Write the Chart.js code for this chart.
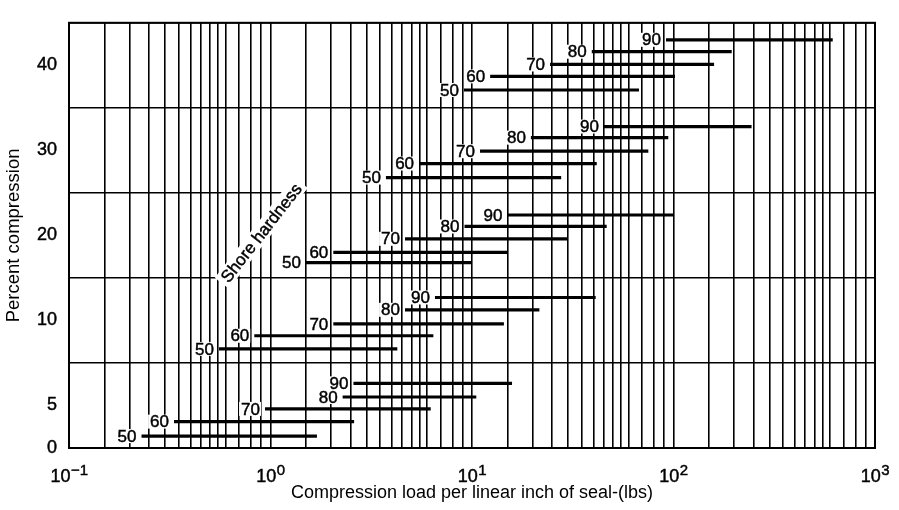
<!DOCTYPE html>
<html><head><meta charset="utf-8">
<script src="https://cdn.jsdelivr.net/npm/chart.js@4"></script>
<style>html,body{margin:0;padding:0;background:#fff;}#wrap{width:899px;height:510px;position:relative;}</style>
</head><body><div id="wrap"><canvas id="c"></canvas></div>
<script>
// ---- data ----
const hardness = [50, 60, 70, 80, 90];
const band1Y = [1.4, 3.1, 4.6, 6.0, 7.6];
const band1Start = [0.229, 0.332, 0.939, 2.28, 2.58];
const band1End = [1.70, 2.60, 6.24, 10.5, 15.8];
const band2Y = [11.65, 13.2, 14.6, 16.25, 17.7];
const band2Start = [0.555, 0.831, 2.05, 4.65, 6.55];
const band2End = [4.26, 6.43, 14.4, 21.6, 41.1];
const band3Y = [21.8, 23.0, 24.6, 26.05, 27.4];
const band3Start = [1.50, 2.05, 4.65, 9.18, 15.0];
const band3End = [9.97, 15.0, 29.7, 46.6, 100];
const band4Y = [31.8, 33.45, 34.9, 36.5, 37.8];
const band4Start = [3.74, 5.46, 10.96, 19.6, 45.2];
const band4End = [27.7, 41.6, 75.0, 94.2, 244];
const band5Y = [42.1, 43.7, 45.1, 46.6, 48.0];
const band5Start = [9.12, 12.3, 24.4, 39.3, 91.8];
const band5End = [67.4, 101.7, 159, 194.5, 617];

const xTickValues = [0.1, 1, 10, 100, 1000];
const xTickBase = '10';
const xTickExponents = ['\u22121', '0', '1', '2', '3'];
const xGridMultipliers = [1, 1.5, 2, 2.5, 3, 3.5, 4, 4.5, 5, 5.5, 6, 7, 8, 9];
const yTickValues = [0, 5, 15, 25, 35, 45];
const yTickLabels = ['0', '5', '10', '20', '30', '40'];
const yGridValues = [0, 10, 20, 30, 40, 50];

const xTitle = 'Compression load per linear inch of seal-(lbs)';
const yTitle = 'Percent compression';
const noteText = 'Shore hardness';

// ---- build datasets ----
const bands = [
  [band1Y, band1Start, band1End],
  [band2Y, band2Start, band2End],
  [band3Y, band3Start, band3End],
  [band4Y, band4Start, band4End],
  [band5Y, band5Start, band5End]
];
const datasets = [];
bands.forEach(([ys, s, e]) => {
  hardness.forEach((h, i) => {
    datasets.push({
      label: String(h),
      data: [{x: s[i], y: ys[i]}, {x: e[i], y: ys[i]}],
      borderColor: '#000',
      borderWidth: 3.2,
      pointRadius: 0,
      fill: false,
      tension: 0
    });
  });
});

const FONT = '"Liberation Sans", Arial, Helvetica, sans-serif';
const LABEL_FONT = '17px ' + FONT;

function boldText(ctx, t, x, y) {
  ctx.fillText(t, x, y);
  ctx.strokeText(t, x, y);
}

function labelBoxes(chart) {
  const ctx = chart.ctx;
  ctx.save();
  ctx.font = LABEL_FONT;
  const out = [];
  chart.data.datasets.forEach((ds, di) => {
    const meta = chart.getDatasetMeta(di);
    const p = meta.data[0];
    const w = ctx.measureText(ds.label).width;
    out.push({text: ds.label, x: p.x - 5, y: p.y, w});
  });
  ctx.restore();
  return out;
}

const labelPlugin = {
  id: 'segLabels',
  beforeDatasetsDraw(chart) {
    const ctx = chart.ctx;
    ctx.save();
    ctx.fillStyle = '#fff';
    labelBoxes(chart).forEach(b => {
      ctx.fillRect(b.x - b.w - 2, b.y - 7, b.w + 3, 14);
    });
    const xs = chart.scales.x, ys = chart.scales.y;
    const nx = xs.getPixelForValue(0.9), ny = ys.getPixelForValue(25.3);
    ctx.translate(nx, ny);
    ctx.rotate(-52 * Math.PI / 180);
    ctx.font = LABEL_FONT;
    const tw = ctx.measureText(noteText).width;
    ctx.fillRect(-tw / 2 - 4, -9, tw + 8, 18);
    ctx.restore();
  },
  afterDatasetsDraw(chart) {
    const ctx = chart.ctx;
    ctx.save();
    ctx.fillStyle = '#000';
    ctx.strokeStyle = '#000';
    ctx.lineWidth = 0.45;
    ctx.font = LABEL_FONT;
    ctx.textAlign = 'right';
    ctx.textBaseline = 'middle';
    labelBoxes(chart).forEach(b => boldText(ctx, b.text, b.x, b.y + 1));
    const xs = chart.scales.x, ys = chart.scales.y;
    const nx = xs.getPixelForValue(0.9), ny = ys.getPixelForValue(25.3);
    ctx.translate(nx, ny);
    ctx.rotate(-52 * Math.PI / 180);
    ctx.textAlign = 'center';
    boldText(ctx, noteText, 0, 1);
    ctx.restore();
  },
  afterDraw(chart) {
    const ctx = chart.ctx;
    const a = chart.chartArea;
    ctx.save();
    ctx.strokeStyle = '#000';
    ctx.lineWidth = 2;
    ctx.strokeRect(a.left, a.top, a.right - a.left, a.bottom - a.top);
    const xs = chart.scales.x;
    ctx.fillStyle = '#000';
    ctx.lineWidth = 0.45;
    ctx.textBaseline = 'alphabetic';
    ctx.textAlign = 'left';
    xTickValues.forEach((v, i) => {
      const px = xs.getPixelForValue(v);
      ctx.font = '18px ' + FONT;
      const wb = ctx.measureText(xTickBase).width;
      ctx.font = '15px ' + FONT;
      const we = ctx.measureText(xTickExponents[i]).width;
      const x0 = px - (wb + we) / 2;
      ctx.font = '18px ' + FONT;
      boldText(ctx, xTickBase, x0, 482);
      ctx.font = '15px ' + FONT;
      boldText(ctx, xTickExponents[i], x0 + wb + 0.5, 475);
    });
    ctx.restore();
  }
};

new Chart(document.getElementById('c'), {
  type: 'line',
  data: {datasets},
  options: {
    responsive: true,
    maintainAspectRatio: false,
    animation: false,
    layout: {padding: {top: 9, right: 24, left: 0, bottom: 0}},
    plugins: {legend: {display: false}, tooltip: {enabled: false}},
    scales: {
      x: {
        type: 'logarithmic',
        min: 0.1,
        max: 1000,
        afterBuildTicks(scale) {
          const t = [];
          xTickValues.slice(0, -1).forEach(d => xGridMultipliers.forEach(m => t.push({value: d * m})));
          t.push({value: xTickValues[xTickValues.length - 1]});
          scale.ticks = t;
        },
        afterFit(scale) { scale.height = 62; },
        ticks: {display: false},
        grid: {color: '#000', lineWidth: 1.6, drawTicks: false},
        border: {display: true, color: '#000', width: 2},
        title: {display: true, text: xTitle, color: '#000', font: {family: FONT, size: 18}, padding: {top: 4, bottom: 6}}
      },
      y: {
        type: 'linear',
        min: 0,
        max: 50,
        afterBuildTicks(scale) {
          const vals = Array.from(new Set([...yTickValues, ...yGridValues])).sort((a, b) => a - b);
          scale.ticks = vals.map(v => ({value: v}));
        },
        afterFit(scale) { scale.width = 69; },
        ticks: {
          color: '#000',
          font: {family: FONT, size: 18},
          padding: 12,
          autoSkip: false,
          textStrokeColor: '#000',
          textStrokeWidth: 0.45,
          callback(v) { const i = yTickValues.indexOf(v); return i >= 0 ? yTickLabels[i] : ''; }
        },
        grid: {
          drawTicks: false,
          lineWidth: 1.6,
          color(ctx) { return ctx.tick && yGridValues.includes(ctx.tick.value) ? '#000' : 'rgba(0,0,0,0)'; }
        },
        border: {display: true, color: '#000', width: 2},
        title: {display: true, text: yTitle, color: '#000', font: {family: FONT, size: 18.5}, padding: {top: 3, bottom: 4}}
      }
    }
  },
  plugins: [labelPlugin]
});
</script></body></html>
